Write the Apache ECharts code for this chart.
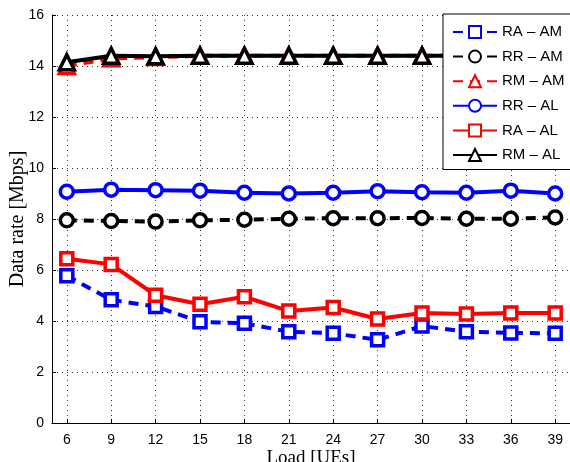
<!DOCTYPE html>
<html>
<head>
<meta charset="utf-8">
<script src="https://cdn.jsdelivr.net/npm/echarts@6/dist/echarts.min.js"></script>
<style>
  html, body { margin: 0; padding: 0; background: #fff; }
  #chart { width: 570px; height: 462px; }
</style>
</head>
<body>
<div id="chart"></div>
<script>
  var loads = [6, 9, 12, 15, 18, 21, 24, 27, 30, 33, 36, 39];
  var raAM = [5.77, 4.83, 4.57, 3.97, 3.91, 3.58, 3.52, 3.26, 3.80, 3.58, 3.53, 3.52];
  var rrAM = [7.95, 7.92, 7.90, 7.95, 7.97, 8.01, 8.03, 8.03, 8.04, 8.01, 8.01, 8.06];
  var rmAM = [14.0, 14.3, 14.35, 14.4, 14.4, 14.4, 14.4, 14.4, 14.4, 14.4, 14.4, 14.4];
  var rrAL = [9.07, 9.15, 9.13, 9.11, 9.03, 9.0, 9.03, 9.09, 9.05, 9.03, 9.11, 9.0];
  var raAL = [6.44, 6.22, 5.01, 4.66, 4.95, 4.39, 4.53, 4.08, 4.31, 4.27, 4.31, 4.31];
  var rmAL = [14.15, 14.4, 14.38, 14.4, 14.4, 14.4, 14.4, 14.4, 14.4, 14.4, 14.4, 14.4];

  function pairs(vals) {
    return loads.map(function (x, i) { return [x, vals[i]]; });
  }

  function line(name, vals, color, symbol, size, dashed) {
    return {
      name: name,
      type: 'line',
      data: pairs(vals),
      symbol: symbol,
      symbolSize: size,
      showSymbol: true,
      lineStyle: { width: 4, color: color, type: dashed ? [10, 7] : 'solid' },
      itemStyle: { color: '#fff', borderColor: color, borderWidth: 3.5 },
      emphasis: { disabled: true }
    };
  }

  var chart = echarts.init(document.getElementById('chart'));
  chart.setOption({
    animation: false,
    grid: { left: 52, right: 0, top: 15, bottom: 39, containLabel: false, outerBoundsMode: 'none' },
    legend: {
      orient: 'vertical',
      left: 443,
      top: 14,
      backgroundColor: '#fff',
      borderColor: '#000',
      borderWidth: 1,
      padding: [10.5, 10, 7, 9],
      itemWidth: 44,
      itemHeight: 15,
      itemGap: 9.6,
      textStyle: { fontFamily: 'Liberation Sans, Arial', fontSize: 15, color: '#000' },
      data: ['RA \u2013 AM', 'RR \u2013 AM', 'RM \u2013 AM', 'RR \u2013 AL', 'RA \u2013 AL', 'RM \u2013 AL']
    },
    xAxis: {
      type: 'value',
      min: 5,
      max: 40,
      name: 'Load [UEs]',
      nameLocation: 'middle',
      nameGap: 26,
      nameMoveOverlap: false,
      nameTextStyle: { fontFamily: 'Liberation Serif, Times New Roman', fontSize: 19, color: '#000' },
      axisLine: { lineStyle: { color: '#000', width: 1 } },
      axisTick: { inside: true, length: 4, customValues: loads, lineStyle: { color: '#000' } },
      axisLabel: { customValues: loads, color: '#000', fontFamily: 'Liberation Sans, Arial', fontSize: 14, margin: 10 },
      splitLine: { show: true, lineStyle: { color: '#333', type: [1, 4], width: 1 } }
    },
    yAxis: {
      type: 'value',
      min: 0,
      max: 16,
      interval: 2,
      name: 'Data rate [Mbps]',
      nameLocation: 'middle',
      nameGap: 24,
      nameMoveOverlap: false,
      nameTextStyle: { fontFamily: 'Liberation Serif, Times New Roman', fontSize: 20, color: '#000' },
      axisLine: { show: true, lineStyle: { color: '#000', width: 1 } },
      axisTick: { show: true, inside: true, length: 4, lineStyle: { color: '#000' } },
      axisLabel: { color: '#000', fontFamily: 'Liberation Sans, Arial', fontSize: 14, margin: 8 },
      splitLine: { show: true, lineStyle: { color: '#333', type: [1, 4], width: 1 } }
    },
    series: [
      line('RA \u2013 AM', raAM, '#0000ff', 'rect', 12, true),
      line('RR \u2013 AM', rrAM, '#000000', 'circle', 13, true),
      line('RM \u2013 AM', rmAM, '#ff0000', 'triangle', 15, true),
      line('RR \u2013 AL', rrAL, '#0000ff', 'circle', 13, false),
      line('RA \u2013 AL', raAL, '#ff0000', 'rect', 12, false),
      line('RM \u2013 AL', rmAL, '#000000', 'triangle', 15, false)
    ]
  });
</script>
</body>
</html>
